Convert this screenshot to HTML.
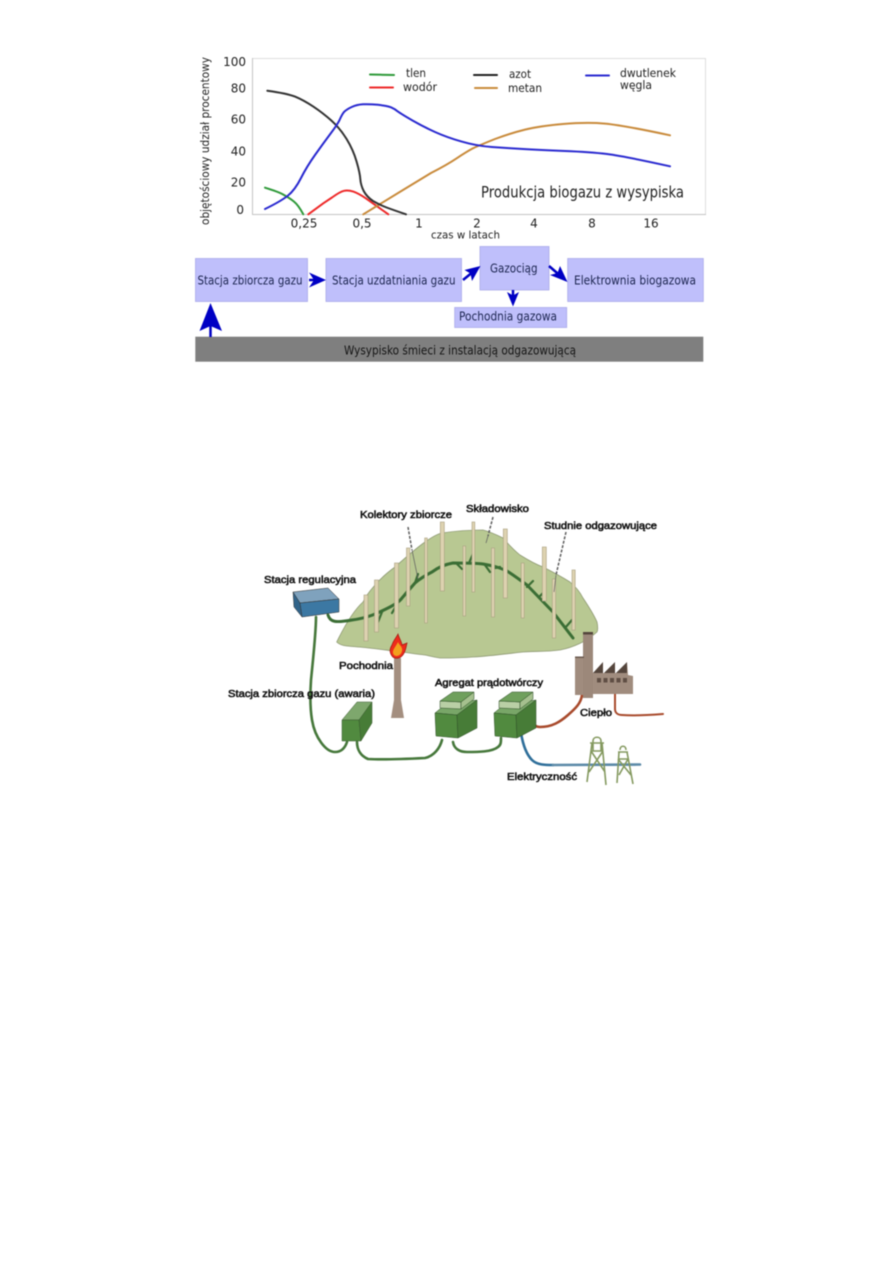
<!DOCTYPE html>
<html><head><meta charset="utf-8"><style>
html,body{margin:0;padding:0;background:#fff}
svg{display:block;filter:blur(.5px)}
text{font-family:"DejaVu Sans","Liberation Sans",sans-serif;fill:#222}
.l{font-family:"Liberation Sans",sans-serif;font-size:10.5px;fill:#111;stroke:#111;stroke-width:.55px}
.p{fill:#ddd2b0;stroke:#a99f80;stroke-width:.6}
.b{fill:#bfbffb;stroke:#aaaaea;stroke-width:.8}
.c{fill:none;stroke-width:2;stroke-linejoin:round;stroke-linecap:round}
.t{fill:#1c2550}
</style></head><body>
<svg width="893" height="1263" viewBox="0 0 893 1263" xmlns="http://www.w3.org/2000/svg">
<rect width="893" height="1263" fill="#fff"/>
<!-- chart frame -->
<rect x="252.5" y="58.5" width="453" height="156" fill="#fff" stroke="#dedede"/>
<path d="M252.5 58V214.5H706" fill="none" stroke="#c4c4c4"/>
<g font-size="12" text-anchor="end">
<text x="246" y="66">100</text><text x="246" y="92.5">80</text><text x="246" y="123.5">60</text><text x="246" y="155.5">40</text><text x="246" y="186.5">20</text><text x="244" y="214">0</text>
</g>
<text transform="translate(209,141) rotate(-90)" font-size="11.5" text-anchor="middle" textLength="168" lengthAdjust="spacingAndGlyphs">objętościowy udział procentowy</text>
<g font-size="12" text-anchor="middle">
<text x="304" y="227.5">0,25</text><text x="362" y="227.5">0,5</text><text x="419" y="227.5">1</text><text x="477" y="227.5">2</text><text x="534" y="227.5">4</text><text x="592" y="227.5">8</text><text x="651" y="227.5">16</text>
</g>
<text x="431" y="238.5" font-size="11" textLength="69" lengthAdjust="spacingAndGlyphs">czas w latach</text>
<g font-size="11.5">
<text x="406" y="77" textLength="20" lengthAdjust="spacingAndGlyphs">tlen</text>
<text x="403" y="91" textLength="34" lengthAdjust="spacingAndGlyphs">wodór</text>
<text x="509" y="78" textLength="22" lengthAdjust="spacingAndGlyphs">azot</text>
<text x="508" y="92" textLength="34" lengthAdjust="spacingAndGlyphs">metan</text>
<text x="620" y="77" textLength="56" lengthAdjust="spacingAndGlyphs">dwutlenek</text>
<text x="620" y="89" textLength="32" lengthAdjust="spacingAndGlyphs">węgla</text>
</g>
<text x="481" y="197.5" font-size="16" fill="#333" textLength="203" lengthAdjust="spacingAndGlyphs">Produkcja biogazu z wysypiska</text>
<path class="c" stroke="#2f9a3a" d="M370 74.5L394 75"/>
<path class="c" stroke="#ee2a2a" d="M370 87.5L393 87.5"/>
<path class="c" stroke="#222" d="M474 75L497 75"/>
<path class="c" stroke="#c98b3c" d="M475 88L497 88"/>
<path class="c" stroke="#2a2ad0" d="M586 75.5L609 75.5"/>
<path class="c" stroke="#2f9a3a" d="M265 187.7Q278.3 191.7 284 195Q290 198.3 294 201.6Q298.3 205 303.3 214.3"/>
<path class="c" stroke="#ee2a2a" d="M308.3 214.3L323.3 203.3L332 197.5Q340 191.7 344 190.8Q348.3 190 353.3 191.6Q358.3 193.3 365.8 198.3L388.3 214.3"/>
<path class="c" stroke="#c98b3c" d="M363.3 214.3L403 190Q416.7 181.7 431 173Q446.7 165 456.7 158.3Q466.7 151.7 473 148.3Q480 145 495 139Q510 133.3 525 129.6Q540 126 563 124Q586.7 122 605 123.6Q623.3 125.3 670 135.3"/>
<path class="c" stroke="#333" d="M267.3 90.7Q286.7 93.3 295 96.6Q303.3 100 313.3 106.6Q323.3 113.3 331.6 120.8Q340 128.3 346.6 139Q353.3 150 356.6 161.6Q360 173.3 360.3 179Q360.7 185 363.7 191Q366.7 196.7 373 201Q380 205 386.6 207.5Q393.3 210 406 214.3"/>
<path class="c" stroke="#2a2ad0" d="M265 209Q280 201.7 287.5 196Q295 190 301 178Q306.7 166.7 315 155Q323.3 143.3 331 133Q338.3 123.3 340 119Q342 114.5 344 112Q346.7 109.3 351.7 107Q356.7 104.7 363 104.3Q370 104 378 104.8Q386.7 105.7 391 107.3Q395 109 398 111.6Q401.7 114.3 412.5 120.5Q423.3 126.7 435 132Q446.7 137.3 461.7 141.6Q476.7 146 491.7 147Q506.7 148 523 149Q540 150 565 151Q590 152 607 154Q623.3 156 670 166.3"/>
<!-- flow boxes -->
<rect class="b" x="195.5" y="258.5" width="112" height="43"/>
<rect class="b" x="326" y="258.5" width="135.5" height="43"/>
<rect class="b" x="480" y="246.5" width="69" height="43.5"/>
<rect class="b" x="567.7" y="258.5" width="135.6" height="43"/>
<rect class="b" x="454.7" y="307.5" width="112" height="20"/>
<rect x="195.3" y="336.7" width="508" height="25" fill="#7f7f7f"/>
<g font-size="12.5">
<text class="t" x="197.5" y="284.5" textLength="105" lengthAdjust="spacingAndGlyphs">Stacja zbiorcza gazu</text>
<text class="t" x="332" y="284.5" textLength="123.5" lengthAdjust="spacingAndGlyphs">Stacja uzdatniania gazu</text>
<text class="t" x="490" y="272.5" textLength="47.5" lengthAdjust="spacingAndGlyphs">Gazociąg</text>
<text class="t" x="574" y="284.5" textLength="122" lengthAdjust="spacingAndGlyphs">Elektrownia biogazowa</text>
<text class="t" x="459" y="320.5" textLength="98" lengthAdjust="spacingAndGlyphs">Pochodnia gazowa</text>
<text style="fill:#151515" x="344" y="354.5" textLength="232" lengthAdjust="spacingAndGlyphs">Wysypisko śmieci z instalacją odgazowującą</text>
</g>
<!-- arrows -->
<g fill="#0000c4" stroke="#0000c4">
<path stroke-width="2.5" d="M309 280H320"/><path stroke="none" d="M326 280L309 272.5 314 280 309 287.5Z"/>
<path stroke-width="2.5" d="M463 280L474 271"/><path stroke="none" d="M480.5 266L464.5 270 470.5 273.5 472 281Z"/>
<path stroke-width="2.5" d="M549 266L560 275.5"/><path stroke="none" d="M567.5 282L560 266 557.5 273 550 275Z"/>
<path stroke-width="2.5" d="M513 290V300"/><path stroke="none" d="M513 306.5L507 292 513 295.5 519 292Z"/>
<path stroke-width="2.5" d="M210.5 337V320"/><path stroke="none" d="M210.5 303L199.5 331 210.5 326 222 331Z"/>
</g>
<!-- landfill -->
<path d="M336.7 642C345 625 354 610 363 602C368 592 372 589 375 585C382 577 388 572 395 567C405 558 415 549 425 542C432 537 437 534 442 533C455 531 470 530 483 530C491 532 497 535 503 538C510 546 515 551 520 555C528 560 535 564 543 567C553 572 562 577 570 582C576 587 580 592 583 598C589 607 594 615 597 622C598 627 598 630 597 632C588 640 575 647 560 650C545 652 535 651 523 652C505 654 490 656 473 657C460 658 450 658 440 658C433 657 430 656 425 655C415 654 410 653 402 652C385 650 372 648 358 647C350 646 342 647 336.7 642Z" fill="#b8c892" stroke="#8f9a74" stroke-width=".8"/>
<!-- collector pipe -->
<g fill="none" stroke="#3b6e35" stroke-width="3" stroke-linecap="round" stroke-linejoin="round">
<path d="M328 615C330 622 335 623 352 620C368 618 378 613 388 608C396 604 400 601 402 598L415 583C422 577 428 574 432 572C440 566 447 564 453 563C465 563 475 563 483 564C495 566 500 568 507 571C515 576 520 580 527 585L553 612L573 638"/>
<path stroke-width="2.2" d="M382 612L378 622M396 606L392 613M402 598L408 590M415 583L418 574M456 563L462 569M469 563L473 554M485 565L490 572M500 567L495 568M527 587L533 581M539 597L545 591M565 628L572 620"/>
</g>
<!-- posts -->
<g class="p">
<rect x="364" y="595" width="4" height="46"/><rect x="374.5" y="580" width="4" height="52"/><rect x="394.5" y="563" width="4" height="65"/><rect x="406.5" y="548" width="3.4" height="58"/><rect x="424.7" y="538" width="2.6" height="85"/><rect x="440.3" y="522" width="4" height="69"/>
<rect x="463" y="546" width="2.6" height="70"/><rect x="472" y="522" width="2.8" height="70"/><rect x="491.5" y="548" width="3" height="69"/><rect x="503.3" y="529" width="4" height="69"/><rect x="521.2" y="563" width="3" height="55"/><rect x="542.3" y="547" width="4" height="54"/><rect x="552.3" y="579" width="3.4" height="59"/><rect x="572" y="570" width="3.2" height="60"/>
</g>
<!-- leaders -->
<g fill="none" stroke="#5e5e5e">
<path stroke-width="1.5" stroke-dasharray="3 1.5" d="M408 527L412 550"/><path stroke-width=".7" d="M412 550L418 579"/>
<path stroke-width="1.5" stroke-dasharray="3 1.5" d="M493 517L488 536"/><path stroke-width=".7" d="M488 536L486 543"/>
<path stroke-width="1.5" stroke-dasharray="3 1.5" d="M566 532L556 575"/><path stroke-width=".7" d="M556 575L554 592"/>
</g>
<!-- connecting pipes -->
<g fill="none" stroke-linecap="round" stroke-linejoin="round">
<g stroke="#46783b" stroke-width="2.6">
<path d="M316 617C316 632 314 650 311 680C310 695 310 708 312 720C315 738 326 752 335 752C341 752 345 748 347 742"/>
<path d="M357 742C357 750 361 756 368 759C385 760 405 759 425 758C434 756 440 748 442 740"/>
<path d="M453 742C454 749 460 752 467 752C478 752 492 752 498 747C501 745 501 742 501 738"/>
</g>
<path stroke="#a84a2c" stroke-width="2.6" d="M582 695C581 703 576 708 568 715C560 722 552 727 540 727C536 727 534 725 533 723"/>
<path stroke="#a84a2c" stroke-width="2" d="M615 694V709C615 713 618 715 622 715C635 716 650 715 663 714"/>
<path stroke="#2f6f9a" stroke-width="2.6" d="M521 733C523 745 526 754 532 760C537 765 545 765 553 765"/>
<path stroke="#5c8aa8" stroke-width="2.6" d="M553 765L640 764.5"/>
</g>
<!-- regulating station -->
<polygon points="293,592 328,588 339,599 300,603" fill="#7fa2bd" stroke="#333" stroke-width=".5"/>
<polygon points="300,603 339,599 339,612 302,617" fill="#3c78a3" stroke="#333" stroke-width=".5"/>
<polygon points="293,592 300,603 302,617 294,607" fill="#31648a" stroke="#333" stroke-width=".5"/>
<!-- collector station -->
<polygon points="342,720 357,702 372,702 359,720" fill="#7ea76d" stroke="#3a5a30" stroke-width=".5"/>
<polygon points="342,720 359,720 361,741 342,741" fill="#518a3f" stroke="#3a5a30" stroke-width=".5"/>
<polygon points="359,720 372,702 372,723 361,741" fill="#477c37" stroke="#3a5a30" stroke-width=".5"/>
<!-- generators -->
<g stroke="#2f4f28" stroke-width=".5">
<polygon points="494,713 505,704 536,700 516,715" fill="#79a668"/>
<polygon points="494,713 516,715 517,738 495,736" fill="#518a3f"/>
<polygon points="516,715 536,700 536,728 517,738" fill="#477c37"/>
<polygon points="499,701 520,702 520,709 499,708" fill="#b9cfa5"/>
<polygon points="520,702 533,692 533,699 520,709" fill="#a5c08e"/>
<polygon points="499,701 512,692 533,692 520,702" fill="#6fa05c"/>
</g>
<g stroke="#2f4f28" stroke-width=".5" transform="translate(-59,0)">
<polygon points="494,713 505,704 536,700 516,715" fill="#79a668"/>
<polygon points="494,713 516,715 517,738 495,736" fill="#518a3f"/>
<polygon points="516,715 536,700 536,728 517,738" fill="#477c37"/>
<polygon points="499,701 520,702 520,709 499,708" fill="#b9cfa5"/>
<polygon points="520,702 533,692 533,699 520,709" fill="#a5c08e"/>
<polygon points="499,701 512,692 533,692 520,702" fill="#6fa05c"/>
</g>
<!-- flare -->
<polygon points="394,658 401,658 401,700 404,718 391,718 394,700" fill="#a48f80"/>
<path d="M398 634C399 638 402 642 402 645C404 644 405 644 407 643C406 648 405 653 402 656C399 659 394 659 392 656C389 652 390 648 392 645C393 641 396 638 398 634Z" fill="#ee2a1c" stroke="#a01a10" stroke-width=".7"/>
<path d="M398 642C399 645 403 647 402 651C401 656 396 657 394 655C391 651 395 648 398 642Z" fill="#f2a01e"/>
<!-- factory -->
<rect x="575" y="657" width="9" height="38" fill="#a08c7e"/>
<rect x="583" y="632" width="10" height="66" fill="#9c887a"/>
<rect x="583" y="632" width="10" height="2.5" fill="#54453c"/>
<rect x="575" y="656.5" width="9" height="1.5" fill="#6b5a50"/>
<polygon points="593,694 633,694 633,676 628,675 627,662 627,673 593,673" fill="#a08c7e"/>
<polygon points="593,673 603,662 603,673" fill="#54453c"/>
<polygon points="604,673 615,662 615,673" fill="#54453c"/>
<polygon points="616,673 627,662 627,673" fill="#54453c"/>
<g fill="#5f4e44"><rect x="597" y="678" width="4" height="4.5"/><rect x="603.5" y="678" width="4" height="4.5"/><rect x="610" y="678" width="4" height="4.5"/><rect x="616.5" y="678" width="4" height="4.5"/><rect x="623" y="678" width="4" height="4.5"/></g>
<!-- pylons -->
<g fill="none" stroke="#84995f" stroke-width="1.6">
<path d="M593 741C593 736 601 736 601 741M590 743H604M591 751H603M592 743L587 782M602 743L606 785M591 751L605 772M603 751L589 772M593 741V751M601 741V751"/>
<path d="M620 750C620 745 626 745 626 750M618 752H628M618 759H628M619 752L617 783M627 752L633 784M618 759L631 775M628 759L619 775"/>
</g>
<!-- labels -->
<text class="l" x="360" y="518" textLength="92" lengthAdjust="spacingAndGlyphs">Kolektory zbiorcze</text>
<text class="l" x="466" y="512" textLength="63" lengthAdjust="spacingAndGlyphs">Składowisko</text>
<text class="l" x="544" y="529" textLength="113" lengthAdjust="spacingAndGlyphs">Studnie odgazowujące</text>
<text class="l" x="264" y="583" textLength="92" lengthAdjust="spacingAndGlyphs">Stacja regulacyjna</text>
<text class="l" x="339" y="669" textLength="54" lengthAdjust="spacingAndGlyphs">Pochodnia</text>
<text class="l" x="228" y="697" textLength="147" lengthAdjust="spacingAndGlyphs">Stacja zbiorcza gazu (awaria)</text>
<text class="l" x="435" y="686" textLength="108" lengthAdjust="spacingAndGlyphs">Agregat prądotwórczy</text>
<text class="l" x="580" y="716" textLength="32" lengthAdjust="spacingAndGlyphs">Ciepło</text>
<text class="l" x="507" y="780" textLength="70" lengthAdjust="spacingAndGlyphs">Elektryczność</text>
</svg>
</body></html>
